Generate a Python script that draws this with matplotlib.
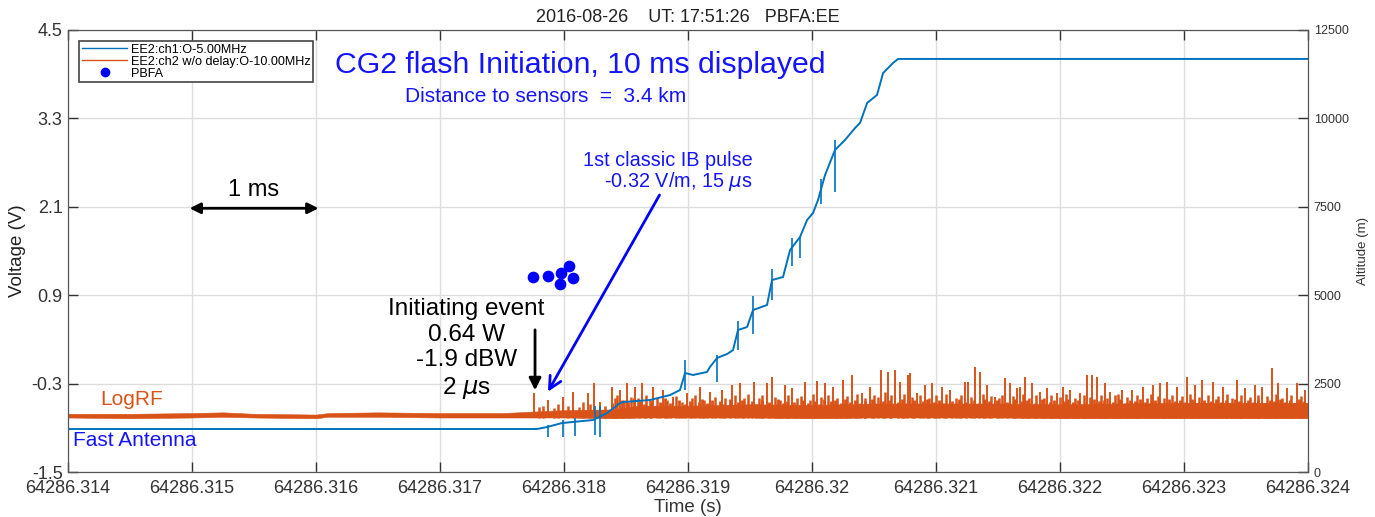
import matplotlib
matplotlib.use("Agg")
import matplotlib.pyplot as plt
from matplotlib.lines import Line2D

plt.rcParams['font.family'] = ['Liberation Sans', 'DejaVu Sans']

T0 = 64286.314  # start of the displayed window (s)

# LogRF envelope: time offset (ms), band floor and band top (V)
rf_env_ms = [0.0, 0.5, 1.0, 1.25, 1.5, 2.0, 2.1, 2.5, 3.0, 3.5, 3.75, 4.0, 4.4,
             4.6, 5.0, 5.5, 6.0, 6.5, 7.0, 7.5, 8.0, 8.5, 9.0, 9.5, 10.0]
rf_env_lo = [-0.76, -0.77, -0.76, -0.75, -0.76, -0.77, -0.75, -0.75, -0.76, -0.76,
             -0.76, -0.76, -0.77, -0.76, -0.76, -0.76, -0.77, -0.76, -0.76, -0.76,
             -0.77, -0.77, -0.77, -0.77, -0.77]
rf_env_hi = [-0.71, -0.71, -0.70, -0.69, -0.71, -0.72, -0.70, -0.69, -0.70, -0.70,
             -0.68, -0.66, -0.65, -0.60, -0.60, -0.58, -0.59, -0.57, -0.57, -0.57,
             -0.58, -0.57, -0.56, -0.56, -0.56]

# LogRF main pulses: time offset (ms), peak (V)
rf_peak_ms = [3.758, 3.871, 3.992, 4.073, 4.194, 4.242, 4.290, 4.387, 4.452, 4.508,
              4.573, 4.629, 4.718, 4.798, 4.879, 4.992, 5.097, 5.177, 5.274, 5.355,
              5.419, 5.532, 5.637, 5.677, 5.782, 5.839, 5.944, 6.040, 6.105, 6.169,
              6.250, 6.323, 6.403, 6.468, 6.556, 6.613, 6.669, 6.710, 6.774, 6.790,
              6.847, 6.911, 6.968, 7.048, 7.113, 7.234, 7.258, 7.315, 7.355, 7.411,
              7.476, 7.556, 7.597, 7.653, 7.677, 7.718, 7.774, 7.839, 7.895, 7.976,
              8.024, 8.081, 8.161, 8.218, 8.258, 8.298, 8.363, 8.403, 8.500, 8.581,
              8.669, 8.750, 8.806, 8.863, 8.944, 9.024, 9.089, 9.145, 9.234, 9.315,
              9.427, 9.492, 9.573, 9.629, 9.710, 9.758, 9.831, 9.911, 9.976]
rf_peak_v = [-0.43, -0.52, -0.48, -0.41, -0.43, -0.29, -0.55, -0.35, -0.39, -0.29,
             -0.35, -0.29, -0.35, -0.39, -0.48, -0.43, -0.35, -0.41, -0.39, -0.32,
             -0.29, -0.28, -0.29, -0.21, -0.32, -0.36, -0.28, -0.26, -0.29, -0.35,
             -0.25, -0.18, -0.43, -0.35, -0.12, -0.14, -0.12, -0.28, -0.18, -0.16,
             -0.43, -0.32, -0.29, -0.35, -0.39, -0.28, -0.28, -0.07, -0.14, -0.32,
             -0.48, -0.22, -0.29, -0.36, -0.35, -0.21, -0.29, -0.41, -0.36, -0.43,
             -0.35, -0.39, -0.43, -0.18, -0.18, -0.21, -0.29, -0.41, -0.39, -0.39,
             -0.35, -0.32, -0.29, -0.28, -0.35, -0.21, -0.32, -0.25, -0.28, -0.35,
             -0.25, -0.36, -0.32, -0.35, -0.09, -0.29, -0.36, -0.29, -0.39]

# smaller LogRF pulses between the main ones
rf_minor_ms = [3.80, 3.83, 3.92, 3.95, 4.03, 4.12, 4.15, 4.21, 4.33, 4.41, 4.43, 4.48,
               4.54, 4.60, 4.66, 4.69, 4.75, 4.83, 4.90, 4.95, 5.03, 5.06, 5.13, 5.22,
               5.30, 5.38, 5.45, 5.48, 5.57, 5.60, 5.70, 5.74, 5.81, 5.88, 5.91, 5.98,
               6.01, 6.07, 6.13, 6.20, 6.28, 6.36, 6.43, 6.50, 6.53, 6.59, 6.64, 6.74,
               6.81, 6.87, 6.94, 7.00, 7.08, 7.16, 7.20, 7.28, 7.38, 7.44, 7.51, 7.53,
               7.62, 7.70, 7.75, 7.81, 7.87, 7.93, 8.00, 8.05, 8.12, 8.19, 8.24, 8.33,
               8.38, 8.44, 8.47, 8.54, 8.62, 8.70, 8.73, 8.79, 8.84, 8.90, 8.98, 9.05,
               9.12, 9.19, 9.27, 9.35, 9.39, 9.46, 9.53, 9.60, 9.67, 9.74, 9.79, 9.86,
               9.94]
rf_minor_v = [-0.62, -0.60, -0.63, -0.58, -0.60, -0.62, -0.55, -0.58, -0.60, -0.50,
              -0.46, -0.52, -0.48, -0.50, -0.45, -0.52, -0.50, -0.52, -0.47, -0.55,
              -0.50, -0.46, -0.52, -0.48, -0.50, -0.45, -0.50, -0.44, -0.50, -0.46,
              -0.48, -0.52, -0.45, -0.50, -0.47, -0.52, -0.44, -0.48, -0.46, -0.50,
              -0.47, -0.44, -0.50, -0.45, -0.48, -0.42, -0.46, -0.44, -0.48, -0.45,
              -0.50, -0.46, -0.44, -0.50, -0.45, -0.48, -0.44, -0.47, -0.50, -0.45,
              -0.47, -0.44, -0.49, -0.46, -0.50, -0.45, -0.48, -0.44, -0.50, -0.46,
              -0.48, -0.45, -0.50, -0.46, -0.44, -0.48, -0.45, -0.49, -0.44, -0.47,
              -0.50, -0.45, -0.47, -0.44, -0.48, -0.45, -0.47, -0.44, -0.49, -0.46,
              -0.48, -0.45, -0.47, -0.44, -0.49, -0.45, -0.47]

# fine LogRF activity filling the band after the onset
rf_fine_ms = [4.385, 4.465, 4.515, 4.565, 4.615, 4.645, 4.705, 4.775, 4.815, 4.855,
              4.925, 4.975, 5.015, 5.085, 5.115, 5.155, 5.195, 5.255, 5.285, 5.335,
              5.405, 5.435, 5.515, 5.545, 5.595, 5.655, 5.725, 5.765, 5.795, 5.855,
              5.925, 5.965, 6.025, 6.055, 6.095, 6.155, 6.185, 6.235, 6.265, 6.305,
              6.345, 6.385, 6.425, 6.485, 6.575, 6.625, 6.695, 6.725, 6.765, 6.825,
              6.895, 6.925, 6.985, 7.025, 7.065, 7.125, 7.185, 7.245, 7.305, 7.345,
              7.395, 7.425, 7.495, 7.575, 7.635, 7.695, 7.735, 7.795, 7.855, 7.915,
              7.955, 8.035, 8.065, 8.105, 8.145, 8.205, 8.275, 8.315, 8.355, 8.425,
              8.485, 8.525, 8.565, 8.605, 8.645, 8.685, 8.765, 8.825, 8.875, 8.925,
              8.965, 9.005, 9.065, 9.105, 9.165, 9.215, 9.255, 9.295, 9.335, 9.375,
              9.415, 9.445, 9.515, 9.555, 9.595, 9.655, 9.695, 9.725, 9.775, 9.815,
              9.855, 9.885, 9.925, 9.965]
rf_fine_v = [-0.56, -0.52, -0.55, -0.50, -0.54, -0.58, -0.53, -0.55, -0.50, -0.56,
             -0.52, -0.57, -0.53, -0.55, -0.51, -0.56, -0.52, -0.54, -0.57, -0.51,
             -0.55, -0.52, -0.54, -0.57, -0.52, -0.55, -0.51, -0.56, -0.53, -0.55,
             -0.52, -0.56, -0.53, -0.57, -0.51, -0.54, -0.52, -0.56, -0.51, -0.55,
             -0.52, -0.56, -0.53, -0.51, -0.54, -0.52, -0.55, -0.51, -0.56, -0.52,
             -0.54, -0.51, -0.55, -0.52, -0.56, -0.53, -0.51, -0.55, -0.52, -0.56,
             -0.51, -0.54, -0.52, -0.55, -0.51, -0.54, -0.52, -0.56, -0.51, -0.55,
             -0.52, -0.54, -0.51, -0.55, -0.52, -0.56, -0.51, -0.54, -0.52, -0.55,
             -0.51, -0.56, -0.52, -0.54, -0.51, -0.55, -0.52, -0.56, -0.51, -0.54,
             -0.52, -0.55, -0.51, -0.56, -0.52, -0.54, -0.51, -0.55, -0.52, -0.56,
             -0.51, -0.54, -0.52, -0.55, -0.51, -0.56, -0.52, -0.54, -0.51, -0.55,
             -0.52, -0.56, -0.51, -0.54]

# fast antenna waveform: time offset (ms), voltage (V)
fa_ms = [0.0, 3.782, 3.863, 3.984, 4.234, 4.347, 4.452, 4.476, 4.694, 4.855, 4.935,
         4.976, 5.040, 5.153, 5.177, 5.234, 5.315, 5.363, 5.403, 5.476, 5.524, 5.637,
         5.677, 5.766, 5.823, 5.903, 5.960, 6.008, 6.048, 6.105, 6.185, 6.266, 6.347,
         6.387, 6.444, 6.524, 6.573, 6.653, 6.694, 10.0]
fa_v = [-0.916, -0.916, -0.889, -0.835, -0.794, -0.699, -0.563, -0.550, -0.522,
        -0.455, -0.387, -0.156, -0.183, -0.142, -0.074, 0.048, 0.102, 0.156, 0.428,
        0.468, 0.699, 0.767, 1.106, 1.147, 1.514, 1.690, 1.921, 2.016, 2.192, 2.532,
        2.871, 3.007, 3.170, 3.238, 3.509, 3.618, 3.916, 4.052, 4.107, 4.107]

# fast antenna glitches: time offset (ms), low and high (V)
fa_glitch_ms = [3.871, 3.992, 4.089, 4.250, 4.290, 4.976, 5.234, 5.403, 5.524, 5.677,
                5.839, 5.903, 6.073, 6.185]
fa_glitch_lo = [-1.02, -1.02, -1.01, -1.00, -1.02, -0.39, -0.28, 0.15, 0.38, 0.84,
                1.30, 1.41, 2.14, 2.30]
fa_glitch_hi = [-0.86, -0.79, -0.77, -0.60, -0.60, 0.02, 0.09, 0.55, 0.89, 1.25,
                1.68, 1.69, 2.48, 3.00]

# PBFA sources: time offset (ms), altitude (m)
pbfa_ms = [3.750, 3.871, 3.976, 4.040, 4.073, 3.968]
pbfa_alt = [5515, 5543, 5628, 5826, 5486, 5317]

x_ticks = [64286.314, 64286.315, 64286.316, 64286.317, 64286.318, 64286.319,
           64286.32, 64286.321, 64286.322, 64286.323, 64286.324]
x_labels = ['64286.314', '64286.315', '64286.316', '64286.317', '64286.318',
            '64286.319', '64286.32', '64286.321', '64286.322', '64286.323', '64286.324']
v_ticks = [-1.5, -0.3, 0.9, 2.1, 3.3, 4.5]
alt_ticks = [0, 2500, 5000, 7500, 10000, 12500]

BLUE = '#0072BD'
ORANGE = '#D95319'
TXT_BLUE = '#1414FF'


def sec(ms_list):
    return [T0 + m / 1000.0 for m in ms_list]


fig = plt.figure(figsize=(13.75, 5.17), dpi=100)
ax = fig.add_axes([0.0495, 0.087, 0.9018, 0.855])
ax2 = ax.twinx()

# LogRF
ax.fill_between(sec(rf_env_ms), rf_env_lo, rf_env_hi, color=ORANGE, lw=0.4, zorder=2)
ax.vlines(sec(rf_fine_ms), -0.76, rf_fine_v, color=ORANGE, lw=2.0, zorder=2)
ax.vlines(sec(rf_minor_ms), -0.76, rf_minor_v, color=ORANGE, lw=1.8, zorder=2)
ax.vlines(sec(rf_peak_ms), -0.76, rf_peak_v, color=ORANGE, lw=1.4, zorder=2)

# fast antenna
ax.plot(sec(fa_ms), fa_v, color=BLUE, lw=1.4, zorder=3)
ax.vlines(sec(fa_glitch_ms), fa_glitch_lo, fa_glitch_hi, color=BLUE, lw=1.2, zorder=3)

# PBFA
ax2.scatter(sec(pbfa_ms), pbfa_alt, s=55, color='#0000FF', zorder=5)

ax.set_xlim(T0, 64286.324)
ax.set_ylim(-1.5, 4.5)
ax2.set_ylim(0, 12500)
ax.set_xticks(x_ticks)
ax.set_xticklabels(x_labels)
ax.set_yticks(v_ticks)
ax.set_yticklabels(['-1.5', '-0.3', '0.9', '2.1', '3.3', '4.5'])
ax2.set_yticks(alt_ticks)
ax.grid(True, color='#dddddd', lw=1)
ax.set_axisbelow(True)

ax.tick_params(direction='in', length=7, width=1, labelsize=13, colors='#333333',
               top=True)
ax.tick_params(axis='x', pad=6)
ax.tick_params(axis='y', pad=4)
ax2.tick_params(direction='in', length=7, width=1, labelsize=9, colors='#333333', pad=4)
for a in (ax, ax2):
    for s in a.spines.values():
        s.set_color('#555555')

ax.set_xlabel('Time (s)', fontsize=13.5, color='#333333', labelpad=1)
ax.set_ylabel('Voltage (V)', fontsize=13.5, color='#222222', labelpad=4)
ax2.set_ylabel('Altitude (m)', fontsize=9.5, color='#333333', labelpad=6)
ax.set_title('2016-08-26    UT: 17:51:26   PBFA:EE', fontsize=13, color='#222222', pad=6)

# annotations
ax.text(T0 + 4.13e-3, 4.03, 'CG2 flash Initiation, 10 ms displayed', color=TXT_BLUE,
        fontsize=21.8, ha='center', va='center')
ax.text(T0 + 3.85e-3, 3.60, 'Distance to sensors  =  3.4 km', color=TXT_BLUE,
        fontsize=15, ha='center', va='center')
ax.text(T0 + 1.5e-3, 2.33, '1 ms', color='black', fontsize=17, ha='center', va='center')
ax.annotate('', xy=(T0 + 0.98e-3, 2.08), xytext=(T0 + 2.02e-3, 2.08),
            arrowprops=dict(arrowstyle='<|-|>', color='black', lw=2,
                            mutation_scale=16, shrinkA=0, shrinkB=0))
ax.text(T0 + 3.21e-3, 0.86, 'Initiating event\n0.64 W\n-1.9 dBW\n2 $\\mu$s',
        color='black', fontsize=17.5, ha='center', va='top', linespacing=1.2)
ax.annotate('', xy=(T0 + 3.766e-3, -0.39), xytext=(T0 + 3.766e-3, 0.43),
            arrowprops=dict(arrowstyle='-|>', color='black', lw=2,
                            mutation_scale=18, shrinkA=0, shrinkB=0))
ax.text(T0 + 5.52e-3, 2.86, '1st classic IB pulse\n-0.32 V/m, 15 $\\mu$s',
        color=TXT_BLUE, fontsize=14.3, ha='right', va='top', linespacing=1.0)
ax.annotate('', xy=(T0 + 3.87e-3, -0.41), xytext=(T0 + 4.77e-3, 2.26),
            arrowprops=dict(arrowstyle='->', color='#0000FF', lw=2,
                            mutation_scale=22, shrinkA=0, shrinkB=0))
ax.text(T0 + 0.26e-3, -0.52, 'LogRF', color=ORANGE, fontsize=15, ha='left', va='center')
ax.text(T0 + 0.04e-3, -1.07, 'Fast Antenna', color=TXT_BLUE, fontsize=15,
        ha='left', va='center')

handles = [Line2D([], [], color=BLUE, lw=1),
           Line2D([], [], color=ORANGE, lw=1),
           Line2D([], [], color='#0000FF', marker='o', ls='', markersize=6)]
leg = ax.legend(handles, ['EE2:ch1:O-5.00MHz', 'EE2:ch2 w/o delay:O-10.00MHz', 'PBFA'],
                loc='upper left', bbox_to_anchor=(0.009, 0.975), fontsize=9.1,
                fancybox=False, edgecolor='#444444', framealpha=1,
                handlelength=3.6, handletextpad=0.3, borderpad=0.2,
                labelspacing=0.0, borderaxespad=0)
leg.get_frame().set_linewidth(1.2)
leg.set_zorder(10)

fig.savefig('out.png', dpi=100)
